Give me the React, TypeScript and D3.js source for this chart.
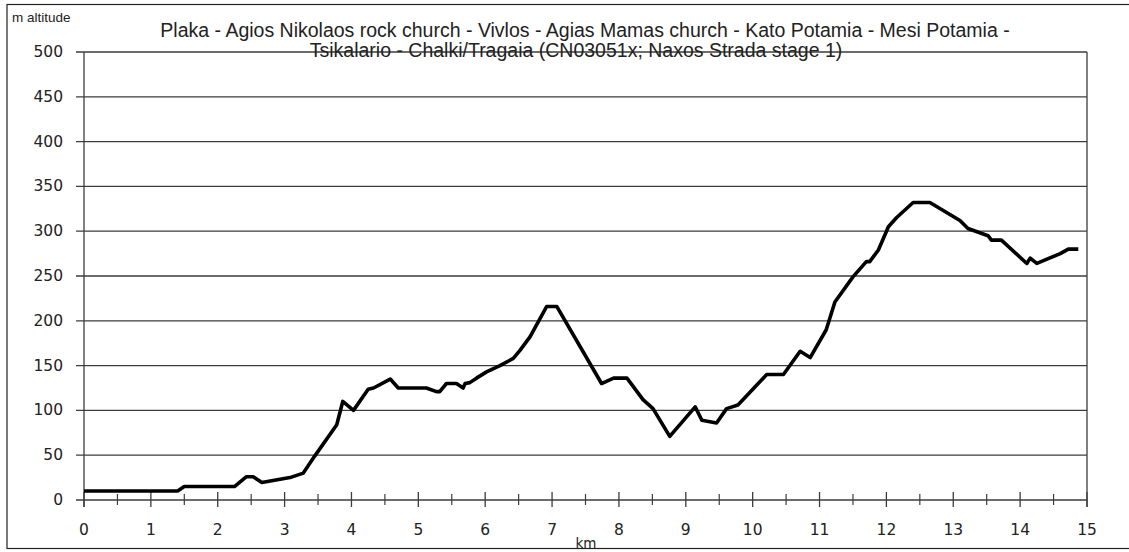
import * as d3 from "d3";

// distance along the route (km) and altitude (m)
const km = [
  0, 1.4, 1.5, 2.25, 2.43, 2.53, 2.66, 3.08, 3.28, 3.45,
  3.78, 3.87, 4.03, 4.25, 4.33, 4.58, 4.7, 5.12, 5.27, 5.32,
  5.42, 5.57, 5.67, 5.7, 5.77, 5.87, 6.02, 6.22, 6.42, 6.52,
  6.67, 6.92, 7.07, 7.74, 7.92, 8.12, 8.36, 8.51, 8.76, 9.14,
  9.24, 9.46, 9.61, 9.78, 10.21, 10.46, 10.71, 10.86, 11.1, 11.23,
  11.5, 11.7, 11.75, 11.88, 12.03, 12.15, 12.4, 12.65, 13.1, 13.22,
  13.52, 13.57, 13.72, 14.1, 14.15, 14.25, 14.6, 14.72, 14.87,
];
const altitude = [
  10, 10, 15, 15, 26, 26, 19.5, 25, 30, 49,
  84, 110, 100, 123.5, 125, 135, 125, 125, 121, 121,
  130, 130, 125, 130, 131, 136, 143, 150, 158, 167,
  182, 216, 216, 130, 136, 136, 112, 102, 71, 104,
  89, 86, 102, 106, 140, 140, 166, 159, 190, 221,
  249, 266, 266, 279, 305, 315, 332, 332, 312, 303,
  295, 290, 290, 264, 270, 264, 275, 280, 280,
];

const yTicks = [0, 50, 100, 150, 200, 250, 300, 350, 400, 450, 500];
const xTicks = [0, 1, 2, 3, 4, 5, 6, 7, 8, 9, 10, 11, 12, 13, 14, 15];
const xMinorTicks = [0.5, 1.5, 2.5, 3.5, 4.5, 5.5, 6.5, 7.5, 8.5, 9.5, 10.5, 11.5, 12.5, 13.5, 14.5];

const titleLines = [
  "Plaka - Agios Nikolaos rock church - Vivlos - Agias Mamas church - Kato Potamia - Mesi Potamia -",
  "Tsikalario - Chalki/Tragaia (CN03051x; Naxos Strada stage 1)",
];

export default function App() {
  const width = 1129;
  const height = 552;
  const margin = { top: 52, right: 42, bottom: 52, left: 84 };

  const xScale = d3
    .scaleLinear()
    .domain([0, 15])
    .range([margin.left, width - margin.right]);

  const yScale = d3
    .scaleLinear()
    .domain([0, 500])
    .range([height - margin.bottom, margin.top]);

  const points: [number, number][] = km.map((k, i) => [k, altitude[i]]);
  const line = d3
    .line<[number, number]>()
    .x((d) => xScale(d[0]))
    .y((d) => yScale(d[1]));

  const axisY = yScale(0);
  const gridColor = "#3c3c3c";
  const labelFont = "'DejaVu Sans', sans-serif";
  // the second title line sits a little left of the first one
  const titleX = [585, 576];

  return (
    <svg
      width={width}
      height={height}
      style={{ position: "absolute", left: 0, top: 0, background: "#fff" }}
    >
      <rect x={7} y={4.5} width={width} height={544} fill="#fff" stroke="#222" strokeWidth={1.2} />

      {yTicks.map((t) => (
        <g key={t}>
          <line
            x1={margin.left - 8}
            x2={xScale(15)}
            y1={yScale(t)}
            y2={yScale(t)}
            stroke={gridColor}
            strokeWidth={1.3}
          />
          <text
            x={63}
            y={yScale(t)}
            textAnchor="end"
            dominantBaseline="central"
            fontFamily={labelFont}
            fontSize={15.5}
            fill="#222"
          >
            {t}
          </text>
        </g>
      ))}

      <line x1={xScale(0)} x2={xScale(0)} y1={yScale(500)} y2={axisY + 7} stroke={gridColor} strokeWidth={1.3} />
      <line x1={xScale(15)} x2={xScale(15)} y1={yScale(500)} y2={axisY + 7} stroke={gridColor} strokeWidth={1.3} />

      {xTicks.map((t) => (
        <g key={t}>
          <line x1={xScale(t)} x2={xScale(t)} y1={axisY - 8} y2={axisY + 7} stroke={gridColor} strokeWidth={1.3} />
          <text
            x={xScale(t)}
            y={535}
            textAnchor="middle"
            fontFamily={labelFont}
            fontSize={15.5}
            fill="#222"
          >
            {t}
          </text>
        </g>
      ))}
      {xMinorTicks.map((t) => (
        <line key={t} x1={xScale(t)} x2={xScale(t)} y1={axisY - 6} y2={axisY + 5} stroke={gridColor} strokeWidth={1.2} />
      ))}

      <path
        d={line(points) ?? ""}
        fill="none"
        stroke="#000"
        strokeWidth={3.6}
        strokeLinejoin="round"
        strokeLinecap="butt"
      />

      <text x={12} y={22} fontFamily="'Liberation Sans', Arial, sans-serif" fontSize={13.5} fill="#222">
        m altitude
      </text>

      {titleLines.map((s, i) => (
        <text
          key={i}
          x={titleX[i]}
          y={37 + i * 20}
          textAnchor="middle"
          fontFamily="'Liberation Sans', Arial, sans-serif"
          fontSize={19.5}
          fill="#222"
        >
          {s}
        </text>
      ))}

      <text x={586} y={548} textAnchor="middle" fontFamily={labelFont} fontSize={13.5} fill="#222">
        km
      </text>
    </svg>
  );
}
